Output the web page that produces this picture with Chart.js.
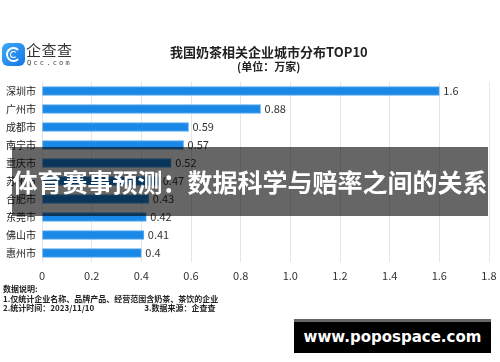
<!DOCTYPE html>
<html>
<head>
<meta charset="utf-8">
<script src="https://cdn.jsdelivr.net/npm/chart.js@4"></script>
<style>
  html, body { margin: 0; padding: 0; background: #fff; }
  body { width: 500px; height: 362px; position: relative; overflow: hidden;
         font-family: "Noto Sans CJK SC", "Noto Sans", sans-serif; }
  #wrap { position: absolute; left: 0; top: 0; width: 500px; height: 362px; }
  .abs { position: absolute; white-space: nowrap; }
  #logo-icon { left: 2px; top: 43px; width: 23px; height: 23px; border-radius: 6px;
               background: linear-gradient(135deg, #3fa9f5, #1677e6); }
  #logo-icon::before { content: ""; position: absolute; left: 4px; top: 4px; width: 11px; height: 11px;
               border: 2px solid #fff; border-radius: 50%; border-right-color: transparent; }
  #logo-icon::after { content: ""; position: absolute; left: 8px; top: 8px; width: 5px; height: 5px;
               border: 1.5px solid #fff; border-radius: 50%; border-right-color: transparent; }
  #logo-text { left: 26px; top: 39px; font-size: 15px; color: #333; letter-spacing: 0.5px; }
  #logo-sub { left: 27px; top: 59px; font-size: 7px; color: #444; letter-spacing: 2.2px; font-family: "DejaVu Sans Mono", monospace; }
  #title { left: 170px; top: 42px; font-size: 13px; font-weight: bold; color: #222; }
  #subtitle { left: 237px; top: 58px; font-size: 11px; font-weight: bold; color: #222; }
  #notes { left: 3px; top: 284px; font-size: 8px; line-height: 9.7px; color: #222; font-weight: bold; }
  #band { left: 12px; top: 147px; width: 476px; height: 69px; background: rgba(0,0,0,0.6);
          color: #fff; font-size: 25px; font-weight: bold; line-height: 69px; text-align: center; }
  #mark { left: 294px; top: 319px; width: 197px; height: 31px; background: #000; border-top: 3px solid #666;
          color: #fff; font-family: "DejaVu Sans", sans-serif; font-weight: bold; font-size: 15px;
          line-height: 31px; text-align: center; }
</style>
</head>
<body>
<div id="wrap"><canvas id="chart" width="500" height="362"></canvas></div>
<div id="logo-icon" class="abs"></div>
<div id="logo-text" class="abs">企查查</div>
<div id="logo-sub" class="abs">Qcc.com</div>
<div id="title" class="abs">我国奶茶相关企业城市分布TOP10</div>
<div id="subtitle" class="abs">(单位：万家)</div>
<div id="notes" class="abs">数据说明:<br>1.仅统计企业名称、品牌产品、经营范围含奶茶、茶饮的企业<br>2.统计时间：2023/11/10<span style="display:inline-block;width:50px"></span>3.数据来源：企查查</div>
<div id="band" class="abs">体育赛事预测：数据科学与赔率之间的关系</div>
<div id="mark" class="abs">www.popospace.com</div>

<script>
const cities = ['深圳市', '广州市', '成都市', '南宁市', '重庆市', '苏州市', '合肥市', '东莞市', '佛山市', '惠州市'];
const counts = [1.6, 0.88, 0.59, 0.57, 0.52, 0.47, 0.43, 0.42, 0.41, 0.4];
const axisMax = 1.8;
const axisStep = 0.2;

// draws the value at the end of each bar
const valueLabels = {
    id: 'valueLabels',
    afterDatasetsDraw(chart) {
        const ctx = chart.ctx;
        const meta = chart.getDatasetMeta(0);
        ctx.save();
        ctx.font = '11px "Noto Sans CJK SC", "Noto Sans", sans-serif';
        ctx.fillStyle = '#333';
        ctx.textBaseline = 'middle';
        ctx.textAlign = 'left';
        meta.data.forEach((bar, i) => {
            ctx.fillText(String(counts[i]), bar.x + 4, bar.y);
        });
        ctx.restore();
    }
};

new Chart(document.getElementById('chart'), {
    type: 'bar',
    data: {
        labels: cities,
        datasets: [{
            data: counts,
            backgroundColor: '#1a88e6',
            borderColor: '#52a8ee',
            borderWidth: 1,
            borderSkipped: false,
            barThickness: 9
        }]
    },
    options: {
        indexAxis: 'y',
        responsive: false,
        animation: false,
        layout: { padding: { top: 82, bottom: 80, right: 11, left: 0 } },
        plugins: { legend: { display: false }, tooltip: { enabled: false } },
        scales: {
            x: {
                min: 0,
                max: axisMax,
                ticks: { stepSize: axisStep, padding: 7, color: '#333',
                         font: { size: 11, family: '"Noto Sans CJK SC", "Noto Sans", sans-serif' } },
                grid: { color: '#e6e6e6', drawTicks: false },
                border: { display: false },
                afterFit(scale) {
                    scale.height = 20;
                    scale.paddingRight = 0;
                    scale.paddingLeft = 0;
                }
            },
            y: {
                ticks: { padding: 6, color: '#222',
                         font: { size: 10, family: '"Noto Sans CJK SC", sans-serif' } },
                grid: { display: false, drawTicks: false },
                border: { display: false },
                afterFit(scale) { scale.width = 42; }
            }
        }
    },
    plugins: [valueLabels]
});
</script>
</body>
</html>
